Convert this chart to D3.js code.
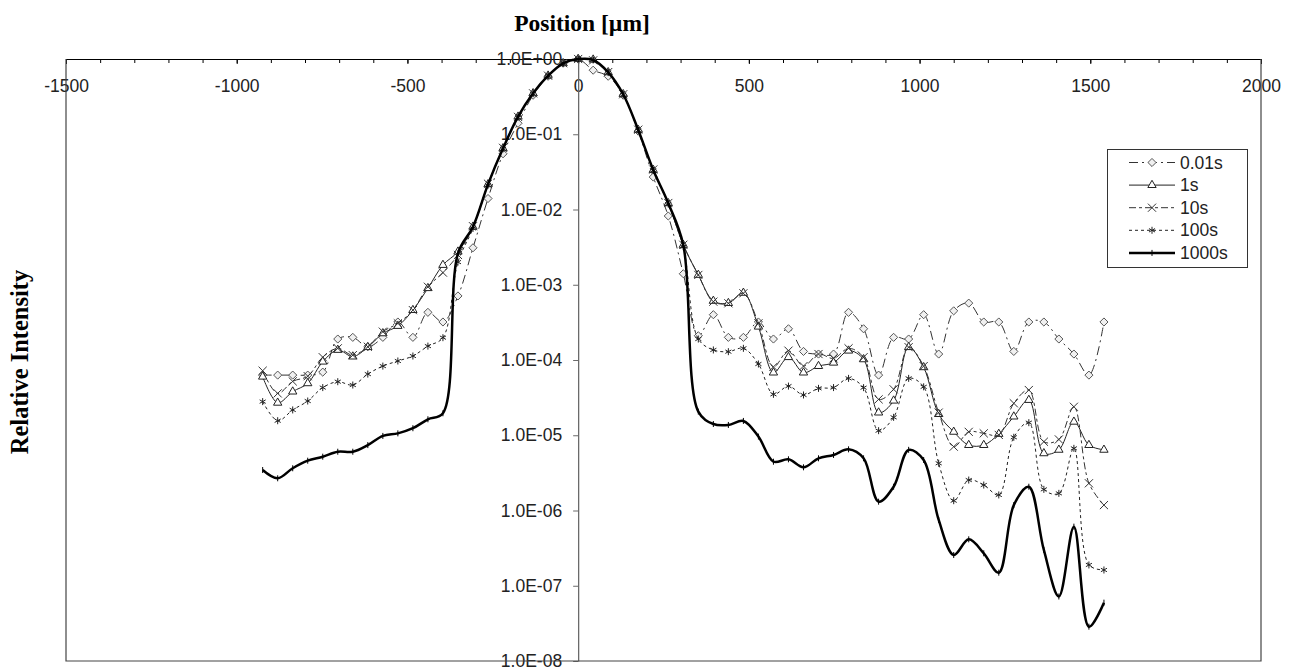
<!DOCTYPE html>
<html>
<head>
<meta charset="utf-8">
<script src="https://cdn.jsdelivr.net/npm/d3@7"></script>
<style>
  body { margin: 0; background: #fff; }
  svg { display: block; }
</style>
</head>
<body>
<svg id="chart" width="1293" height="668"></svg>
<script>
// sample positions in µm
const positions = [-924,-880,-836,-792,-748,-704,-660,-616,-572,-528,-484,-440,-396,-352,-308,-264,-220,-176,-132,-88,-44,0,
  44,88,132,176,220,264,308,352,396,440,484,528,572,616,660,704,748,792,836,880,924,968,1012,1056,1100,1144,1188,1232,
  1276,1320,1364,1408,1452,1496,1540];

const s001 = [6.3e-5,6.3e-5,6.3e-5,6.3e-5,6.9e-5,1.9e-4,2.0e-4,1.5e-4,2.0e-4,3.2e-4,2.0e-4,4.3e-4,3.2e-4,7.1e-4,
  3.1e-3,1.4e-2,5.5e-2,0.14,0.33,0.59,0.88,1.0,0.71,0.59,0.33,0.11,2.7e-2,8.2e-3,1.4e-3,2.1e-4,4.0e-4,2.0e-4,2.0e-4,
  3.2e-4,1.9e-4,2.6e-4,1.3e-4,1.2e-4,1.2e-4,4.3e-4,2.6e-4,6.3e-5,2.0e-4,1.9e-4,4.0e-4,1.2e-4,4.5e-4,5.7e-4,3.2e-4,
  3.2e-4,1.3e-4,3.2e-4,3.2e-4,1.9e-4,1.2e-4,6.3e-5,3.2e-4];

const s1 = [6.0e-5,2.7e-5,3.8e-5,4.9e-5,9.5e-5,1.36e-4,1.11e-4,1.48e-4,2.26e-4,2.83e-4,4.6e-4,9.0e-4,1.83e-3,2.75e-3,
  5.9e-3,2.16e-2,6.5e-2,0.171,0.35,0.60,0.877,1.0,0.98,0.666,0.34,0.114,3.35e-2,1.21e-2,3.38e-3,1.35e-3,6.1e-4,5.7e-4,
  7.8e-4,2.77e-4,6.8e-5,1.09e-4,6.8e-5,8.3e-5,9.2e-5,1.33e-4,1.02e-4,2.0e-5,2.88e-5,1.48e-4,8.0e-5,1.91e-5,1.11e-5,
  7.4e-6,7.4e-6,1.04e-5,1.77e-5,2.94e-5,5.75e-6,6.4e-6,1.51e-5,7.4e-6,6.4e-6];

const s10 = [7.2e-5,3.6e-5,5.2e-5,6.1e-5,1.09e-4,1.43e-4,1.16e-4,1.5e-4,2.38e-4,3.07e-4,4.6e-4,9.4e-4,1.45e-3,2.49e-3,
  6.0e-3,2.2e-2,6.6e-2,0.17,0.35,0.6,0.88,1.0,0.96,0.67,0.34,0.115,3.4e-2,1.22e-2,3.4e-3,1.35e-3,5.96e-4,5.67e-4,
  7.7e-4,3.07e-4,8.1e-5,1.33e-4,8.3e-5,1.2e-4,1.05e-4,1.43e-4,1.09e-4,3.0e-5,4.08e-5,1.48e-4,8.3e-5,2.0e-5,7.05e-6,
  1.11e-5,1.06e-5,1.01e-5,2.66e-5,3.99e-5,8.2e-6,8.8e-6,2.39e-5,2.3e-6,1.18e-6];

const s100 = [2.8e-5,1.56e-5,2.17e-5,2.85e-5,4.3e-5,5.15e-5,4.65e-5,6.5e-5,8.3e-5,9.7e-5,1.13e-4,1.53e-4,1.98e-4,2.0e-3,
  5.6e-3,2.1e-2,6.4e-2,0.168,0.345,0.6,0.875,1.0,0.97,0.66,0.335,0.112,3.3e-2,1.18e-2,3.2e-3,1.9e-4,1.36e-4,1.29e-4,
  1.43e-4,8.85e-5,3.5e-5,4.5e-5,3.43e-5,4.2e-5,4.3e-5,5.7e-5,4.29e-5,1.15e-5,1.73e-5,5.7e-5,4.4e-5,4.24e-6,1.35e-6,
  2.54e-6,2.18e-6,1.61e-6,9.4e-6,1.47e-5,1.91e-6,1.69e-6,6.7e-6,1.89e-7,1.62e-7];

const s1000 = [3.45e-6,2.68e-6,3.64e-6,4.59e-6,5.19e-6,6.04e-6,6.04e-6,7.4e-6,9.8e-6,1.06e-5,1.24e-5,1.63e-5,1.96e-5,2.62e-3,
  5.9e-3,2.16e-2,6.5e-2,0.171,0.35,0.6,0.877,1.0,0.97,0.666,0.34,0.114,3.35e-2,1.21e-2,3.38e-3,2.06e-5,1.41e-5,1.37e-5,
  1.55e-5,9.6e-6,4.45e-6,4.79e-6,3.75e-6,4.94e-6,5.47e-6,6.5e-6,4.94e-6,1.31e-6,2.07e-6,6.4e-6,4.69e-6,7.5e-7,2.56e-7,
  4.14e-7,2.7e-7,1.49e-7,1.18e-6,2.07e-6,2.99e-7,7.2e-8,6.1e-7,2.86e-8,5.96e-8];

const seriesNames = ['0.01s', '1s', '10s', '100s', '1000s'];
const seriesValues = [s001, s1, s10, s100, s1000];

const xTicks = [-1500, -1000, -500, 0, 500, 1000, 1500, 2000];
const yTicks = [1, 1e-1, 1e-2, 1e-3, 1e-4, 1e-5, 1e-6, 1e-7, 1e-8];
const yTickLabels = ['1.0E+00', '1.0E-01', '1.0E-02', '1.0E-03', '1.0E-04', '1.0E-05', '1.0E-06', '1.0E-07', '1.0E-08'];

// look of each series
const styles = [
  { dash: '9,4,2,4', width: 1, color: '#333', symbol: d3.symbolDiamond2, size: 42, fill: '#f0f0f0', stroke: '#555' },
  { dash: null, width: 1, color: '#222', symbol: d3.symbolTriangle, size: 30, fill: '#fff', stroke: '#222' },
  { dash: '7,3,3,3', width: 1, color: '#333', symbol: d3.symbolX, size: 45, fill: 'none', stroke: '#333' },
  { dash: '3,3', width: 1, color: '#222', symbol: d3.symbolAsterisk, size: 34, fill: 'none', stroke: '#222' },
  { dash: null, width: 2.5, color: '#000', symbol: null, size: 0, fill: 'none', stroke: '#000' }
];

const plotLeft = 66, plotRight = 1261, plotTop = 59, plotBottom = 661;
const font = 'Arial, "Liberation Sans", sans-serif';
const serif = '"Times New Roman", "Liberation Serif", serif';

const svg = d3.select('#chart');
const x = d3.scaleLinear().domain([-1500, 2000]).range([plotLeft, plotRight]);
const y = d3.scaleLog().domain([1e-8, 1]).range([plotBottom, plotTop]);

// x axis sits at the top (y = 1)
const xMinor = svg.append('g').attr('transform', `translate(0,${plotTop})`)
  .call(d3.axisBottom(x).tickValues(x.ticks(35)).tickSize(4).tickFormat('').tickSizeOuter(0));
xMinor.select('.domain').remove();
xMinor.selectAll('line').attr('stroke', '#000');

const xAxis = svg.append('g').attr('transform', `translate(0,${plotTop})`)
  .call(d3.axisBottom(x).tickValues(xTicks).tickSize(5).tickPadding(16)
    .tickFormat(d => String(d)).tickSizeOuter(0));
xAxis.select('.domain').attr('stroke', '#000');
xAxis.selectAll('line').attr('stroke', '#000');
xAxis.selectAll('text').attr('font-family', font).attr('font-size', 17.5).attr('fill', '#222');

// y axis crosses at x = 0
const yAxis = svg.append('g').attr('transform', `translate(${x(0)},0)`)
  .call(d3.axisLeft(y).tickValues(yTicks).tickSize(5).tickPadding(11)
    .tickFormat((d, i) => yTickLabels[i]).tickSizeOuter(0));
yAxis.select('.domain').attr('stroke', '#6a6a6a').attr('stroke-width', 1.3);
yAxis.selectAll('line').attr('stroke', '#6a6a6a');
yAxis.selectAll('text').attr('font-family', font).attr('font-size', 17.5).attr('fill', '#222');

// plot border
svg.append('path')
  .attr('d', `M${plotLeft},${plotTop}V${plotBottom}H${plotRight}V${plotTop}`)
  .attr('fill', 'none').attr('stroke', '#444').attr('stroke-width', 1.2);

// titles
svg.append('text').attr('x', 582).attr('y', 31).attr('text-anchor', 'middle')
  .attr('font-family', serif).attr('font-weight', 'bold').attr('font-size', 23.5)
  .text('Position [µm]');
svg.append('text').attr('transform', 'translate(28,362) rotate(-90)').attr('text-anchor', 'middle')
  .attr('font-family', serif).attr('font-weight', 'bold').attr('font-size', 24.5)
  .text('Relative Intensity');

const line = d3.line()
  .x((d, i) => x(positions[i]))
  .y(d => y(d))
  .curve(d3.curveCatmullRom.alpha(0.5));

function drawMarker(g, st, cx, cy) {
  if (st.symbol) {
    g.append('path')
      .attr('d', d3.symbol(st.symbol, st.size)())
      .attr('transform', `translate(${cx},${cy})`)
      .attr('fill', st.fill).attr('stroke', st.stroke).attr('stroke-width', 1);
  } else {
    g.append('path')
      .attr('d', 'M0,-3V3')
      .attr('transform', `translate(${cx},${cy})`)
      .attr('stroke', '#000').attr('stroke-width', 1);
  }
}

seriesValues.forEach((vals, k) => {
  const st = styles[k];
  const g = svg.append('g');
  g.append('path')
    .attr('d', line(vals))
    .attr('fill', 'none')
    .attr('stroke', st.color)
    .attr('stroke-width', st.width)
    .attr('stroke-dasharray', st.dash);
  vals.forEach((v, i) => drawMarker(g, st, x(positions[i]), y(v)));
});

// legend
const legend = svg.append('g');
legend.append('rect')
  .attr('x', 1107.5).attr('y', 149.5).attr('width', 140).attr('height', 118)
  .attr('fill', '#fff').attr('stroke', '#333').attr('stroke-width', 1);

seriesNames.forEach((name, k) => {
  const st = styles[k];
  const cy = 162.5 + k * 22.6;
  const row = legend.append('g');
  row.append('line')
    .attr('x1', 1129).attr('x2', 1175).attr('y1', cy).attr('y2', cy)
    .attr('stroke', st.color).attr('stroke-width', st.width)
    .attr('stroke-dasharray', st.dash);
  drawMarker(row, st, 1152, cy);
  row.append('text')
    .attr('x', 1180).attr('y', cy).attr('dy', '0.35em')
    .attr('font-family', font).attr('font-size', 17.5).attr('fill', '#222')
    .text(name);
});
</script>
</body>
</html>
